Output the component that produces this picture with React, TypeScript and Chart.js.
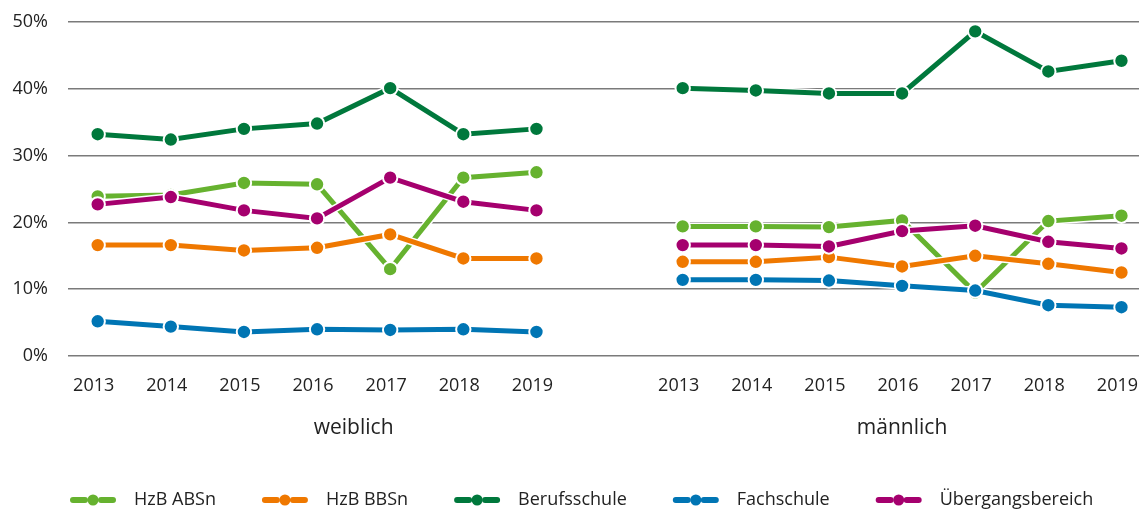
import { useEffect, useRef } from 'react';
import { Chart, registerables } from 'chart.js';

Chart.register(...registerables);

const years = ['2013', '2014', '2015', '2016', '2017', '2018', '2019'];
const groupLabels = ['weiblich', 'männlich'];
const seriesNames = ['HzB ABSn', 'HzB BBSn', 'Berufsschule', 'Fachschule', 'Übergangsbereich'];

// weiblich
const absnW = [23.9, 24.1, 25.9, 25.7, 13.0, 26.7, 27.5];
const bbsnW = [16.6, 16.6, 15.8, 16.2, 18.2, 14.6, 14.6];
const berufW = [33.2, 32.4, 34.0, 34.8, 40.1, 33.2, 34.0];
const fachW = [5.2, 4.4, 3.6, 4.0, 3.9, 4.0, 3.6];
const uebW = [22.7, 23.8, 21.8, 20.6, 26.7, 23.1, 21.8];

// männlich
const absnM = [19.4, 19.4, 19.3, 20.3, 9.5, 20.2, 21.0];
const bbsnM = [14.1, 14.1, 14.8, 13.4, 15.0, 13.8, 12.5];
const berufM = [40.1, 39.75, 39.3, 39.3, 48.6, 42.6, 44.2];
const fachM = [11.4, 11.4, 11.3, 10.5, 9.8, 7.6, 7.3];
const uebM = [16.6, 16.6, 16.4, 18.7, 19.5, 17.1, 16.1];

const yTicks = [0, 10, 20, 30, 40, 50];

const colors = ['#66B22F', '#EF7800', '#00783C', '#0075B4', '#A5006E'];
const FONT = "'Open Sans', sans-serif";
const TEXT = '#222222';
const GAP_INDEX = years.length; // empty slot between the groups
const M_OFFSET = years.length + 1;

function buildPoints(w: number[], m: number[]) {
  return [
    ...w.map((y, i) => ({ x: i, y })),
    { x: GAP_INDEX, y: null as any },
    ...m.map((y, i) => ({ x: i + M_OFFSET, y })),
  ];
}

const whiteOutline = {
  id: 'whiteOutline',
  beforeDatasetDraw(chart: any, args: any) {
    const ctx = chart.ctx;
    const pts = args.meta.data;
    ctx.save();
    ctx.strokeStyle = '#ffffff';
    ctx.lineWidth = 8;
    ctx.lineJoin = 'miter';
    ctx.beginPath();
    let started = false;
    pts.forEach((p: any) => {
      if (p.skip || isNaN(p.y)) {
        started = false;
        return;
      }
      if (!started) {
        ctx.moveTo(p.x, p.y);
        started = true;
      } else {
        ctx.lineTo(p.x, p.y);
      }
    });
    ctx.stroke();
    ctx.restore();
  },
};

const extras = {
  id: 'extras',
  afterDraw(chart: any) {
    const ctx = chart.ctx;
    const xs = chart.scales.x;
    ctx.save();
    // group labels
    ctx.font = `21px ${FONT}`;
    ctx.fillStyle = TEXT;
    ctx.textAlign = 'center';
    ctx.textBaseline = 'middle';
    ctx.fillText(groupLabels[0], xs.getPixelForValue((0 + GAP_INDEX) / 2), 428);
    ctx.fillText(groupLabels[1], xs.getPixelForValue(M_OFFSET + (years.length - 1) / 2), 428);

    // legend
    let x = 70;
    const y = 500;
    ctx.font = `18px ${FONT}`;
    ctx.textAlign = 'left';
    chart.data.datasets.forEach((ds: any) => {
      const c = ds.borderColor;
      ctx.fillStyle = c;
      ctx.strokeStyle = c;
      ctx.lineWidth = 6;
      ctx.lineCap = 'round';
      ctx.beginPath();
      ctx.moveTo(x + 3, y);
      ctx.lineTo(x + 15, y);
      ctx.moveTo(x + 31, y);
      ctx.lineTo(x + 43, y);
      ctx.stroke();
      ctx.beginPath();
      ctx.arc(x + 23, y, 5.5, 0, Math.PI * 2);
      ctx.fill();
      ctx.fillStyle = TEXT;
      ctx.fillText(ds.label, x + 64, y);
      x += 64 + ctx.measureText(ds.label).width + 46;
    });
    ctx.restore();
  },
};

export default function App() {
  const ref = useRef<HTMLCanvasElement>(null);

  useEffect(() => {
    document.body.style.margin = '0';
    const w = [absnW, bbsnW, berufW, fachW, uebW];
    const m = [absnM, bbsnM, berufM, fachM, uebM];
    const orders = [5, 4, 3, 2, 1];
    const datasets = seriesNames.map((name, i) => ({
      label: name,
      data: buildPoints(w[i], m[i]),
      borderColor: colors[i],
      backgroundColor: colors[i],
      pointBackgroundColor: colors[i],
      pointBorderColor: '#ffffff',
      pointBorderWidth: 2,
      pointRadius: 7.2,
      pointHoverRadius: 7.2,
      borderWidth: 5,
      tension: 0,
      spanGaps: false,
      order: orders[i],
    }));
    const tickValues = [
      ...years.map((_, i) => i),
      ...years.map((_, i) => i + M_OFFSET),
    ];

    const chart = new Chart(ref.current!, {
      type: 'line',
      data: { datasets },
      plugins: [whiteOutline, extras],
      options: {
        animation: false,
        responsive: false,
        events: [],
        layout: { autoPadding: false, padding: { top: 22, right: 0, left: 0, bottom: 0 } },
        plugins: {
          legend: { display: false },
          tooltip: { enabled: false },
        },
        scales: {
          x: {
            type: 'linear',
            min: -0.406,
            max: 14.24,
            grid: { display: false, drawTicks: false },
            border: { display: false },
            afterBuildTicks: (scale: any) => {
              scale.ticks = tickValues.map((v) => ({ value: v }));
            },
            afterFit: (scale: any) => {
              scale.height = 156;
              scale.paddingLeft = 0;
              scale.paddingRight = 0;
            },
            ticks: {
              autoSkip: false,
              maxRotation: 0,
              padding: 19,
              labelOffset: -4,
              color: TEXT,
              font: { family: FONT, size: 18 },
              callback: (value: any) => {
                const v = Number(value);
                return v < GAP_INDEX ? years[v] : years[v - M_OFFSET];
              },
            },
          },
          y: {
            min: yTicks[0],
            max: yTicks[yTicks.length - 1],
            grid: { color: '#7a7a7a', lineWidth: 1.6, drawTicks: false },
            border: { display: false },
            afterBuildTicks: (scale: any) => {
              scale.ticks = yTicks.map((v) => ({ value: v }));
            },
            afterFit: (scale: any) => {
              scale.width = 68;
              scale.paddingTop = 0;
              scale.paddingBottom = 0;
            },
            ticks: {
              padding: 20,
              color: TEXT,
              font: { family: FONT, size: 18 },
              callback: (value: any) => `${value}%`,
            },
          },
        },
      } as any,
    });
    return () => chart.destroy();
  }, []);

  return (
    <div style={{ width: 1139, height: 512 }}>
      <canvas ref={ref} width={1139} height={512} />
    </div>
  );
}
